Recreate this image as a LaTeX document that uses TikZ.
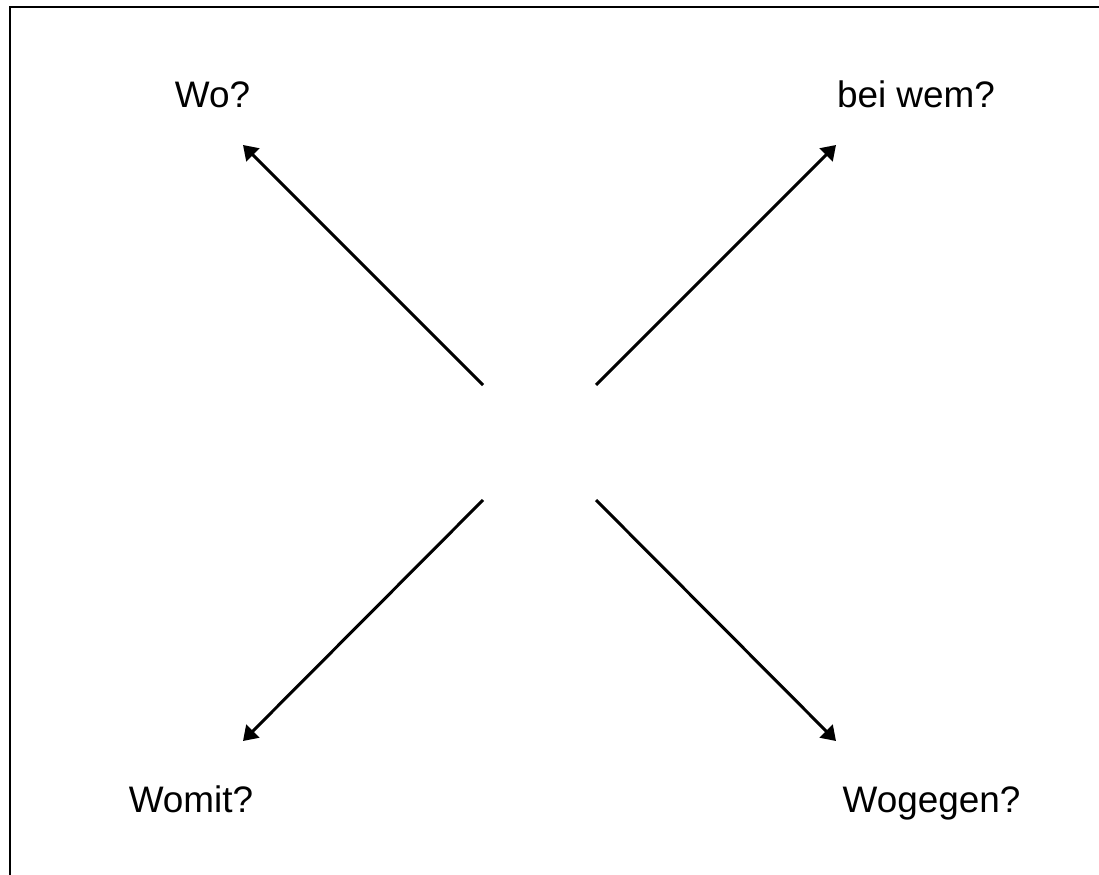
\documentclass[tikz,border=0pt]{standalone}
\usepackage{fontspec}
\setmainfont{Liberation Sans}
\usetikzlibrary{arrows.meta}
\newcommand{\qarrow}{Triangle[length=2.8mm,width=3.6mm]}

\begin{document}
\begin{tikzpicture}[x=0.02cm, y=-0.02cm,
    question/.style={anchor=base, inner sep=0pt, font=\fontsize{21}{25}\selectfont},
    ray/.style={-\qarrow, line width=1.7pt}]
  % General frame is (0,0) to (1099, 875)
  \useasboundingbox (0,0) rectangle (1099,875);
  \clip (0,0) rectangle (1099,875);
  \draw[line width=1.1pt] (10,7) rectangle (1250,1000);

  % questions
  \node[question] (wo) at (212.5,108) {Wo?};
  \node[question] (beiwem) at (916,108) {bei wem?};
  \node[question] (womit) at (191,812) {Womit?};
  \node[question] (wogegen) at (931.5,812) {Wogegen?};

  % inner ends of the arrows
  \coordinate (ul) at (483,385);
  \coordinate (ur) at (596,385);
  \coordinate (ll) at (483,500);
  \coordinate (lr) at (596,500);

  % arrow tips
  \coordinate (ultip) at (243,145);
  \coordinate (urtip) at (836,145);
  \coordinate (lltip) at (243,741);
  \coordinate (lrtip) at (836,741);

  % arrows
  \draw[ray] (ul) -- (ultip);
  \draw[ray] (ur) -- (urtip);
  \draw[ray] (ll) -- (lltip);
  \draw[ray] (lr) -- (lrtip);
\end{tikzpicture}
\end{document}
